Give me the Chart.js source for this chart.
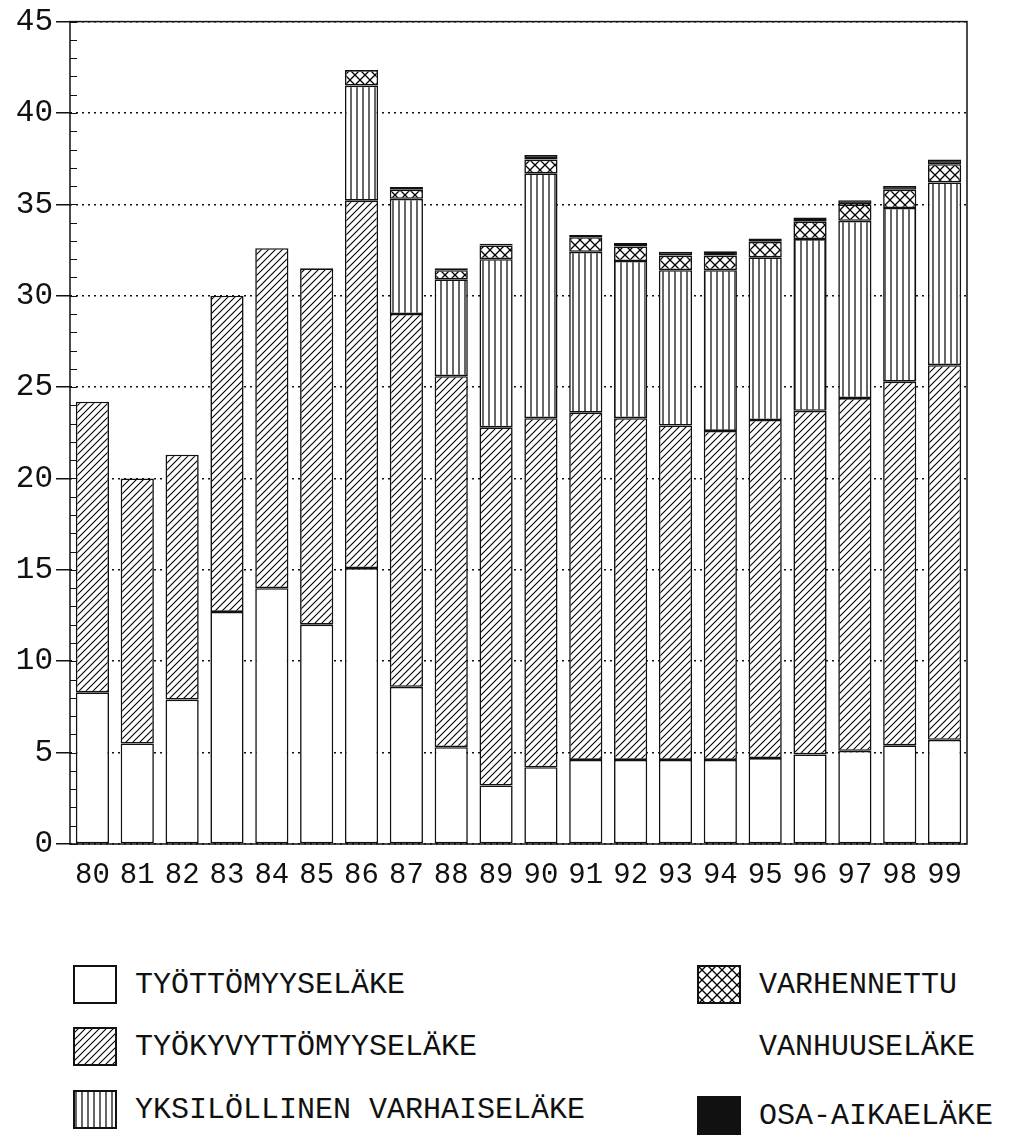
<!DOCTYPE html>
<html>
<head>
<meta charset="utf-8">
<script src="https://cdn.jsdelivr.net/npm/chart.js@4.4.0/dist/chart.umd.min.js"></script>
<style>
    body { margin: 0; background: #fff; }
    #wrap { position: relative; width: 1011px; height: 1139px; overflow: hidden; }
    #chart { position: absolute; left: 0; top: 0; }
    .item { position: absolute; display: flex; align-items: center; font-family: "Liberation Mono", "Courier New", monospace; font-size: 30px; color: #111; white-space: nowrap; }
    .item canvas { margin-right: 18px; }
    .label { position: absolute; font-family: "Liberation Mono", "Courier New", monospace; font-size: 30px; color: #111; white-space: nowrap; }
</style>
</head>
<body>
<div id="wrap">
    <canvas id="chart" width="1011" height="900"></canvas>
    <div class="item" style="left:73px; top:965px;"><canvas class="sw" data-k="white" width="44" height="39"></canvas>TYÖTTÖMYYSELÄKE</div>
    <div class="item" style="left:73px; top:1027px;"><canvas class="sw" data-k="diag" width="44" height="39"></canvas>TYÖKYVYTTÖMYYSELÄKE</div>
    <div class="item" style="left:73px; top:1090px;"><canvas class="sw" data-k="vert" width="44" height="39"></canvas>YKSILÖLLINEN VARHAISELÄKE</div>
    <div class="item" style="left:697px; top:965px;"><canvas class="sw" data-k="cross" width="44" height="39"></canvas>VARHENNETTU</div>
    <div class="label" style="left:759px; top:1030px;">VANHUUSELÄKE</div>
    <div class="item" style="left:697px; top:1096px;"><canvas class="sw" data-k="black" width="44" height="39"></canvas>OSA-AIKAELÄKE</div>
</div>
<script>
const years = ["80", "81", "82", "83", "84", "85", "86", "87", "88", "89",
               "90", "91", "92", "93", "94", "95", "96", "97", "98", "99"];

// työttömyyseläke
const unemployment = [8.3, 5.5, 7.9, 12.7, 14.0, 12.0, 15.1, 8.6, 5.3, 3.2,
                      4.2, 4.6, 4.6, 4.6, 4.6, 4.7, 4.9, 5.1, 5.4, 5.7];
// työkyvyttömyyseläke
const disability = [15.9, 14.5, 13.4, 17.3, 18.6, 19.5, 20.1, 20.4, 20.3, 19.6,
                    19.1, 19.0, 18.7, 18.3, 18.0, 18.5, 18.8, 19.3, 19.9, 20.5];
// yksilöllinen varhaiseläke
const individual = [null, null, null, null, null, null, 6.3, 6.3, 5.3, 9.2,
                    13.4, 8.8, 8.6, 8.5, 8.8, 8.9, 9.4, 9.7, 9.5, 10.0];
// varhennettu vanhuuseläke
const earlyOld = [null, null, null, null, null, null, 0.85, 0.5, 0.5, 0.75,
                  0.75, 0.8, 0.8, 0.8, 0.8, 0.85, 0.95, 0.9, 1.0, 1.0];
// osa-aikaeläke
const partTime = [null, null, null, null, null, null, null, 0.15, 0.1, 0.1,
                  0.25, 0.13, 0.18, 0.2, 0.23, 0.18, 0.23, 0.23, 0.2, 0.25];

const yTicks = [0, 5, 10, 15, 20, 25, 30, 35, 40, 45];

function makePattern(kind) {
    const c = document.createElement("canvas");
    const g = c.getContext("2d");
    g.strokeStyle = "#111";
    if (kind === "diag") {
        c.width = 7; c.height = 7;
        g.fillStyle = "#fff"; g.fillRect(0, 0, 7, 7);
        g.lineWidth = 1.1;
        g.beginPath();
        g.moveTo(-2, 9); g.lineTo(9, -2);
        g.moveTo(-9, 9); g.lineTo(2, -2);
        g.moveTo(5, 9); g.lineTo(16, -2);
        g.stroke();
    } else if (kind === "vert") {
        c.width = 6; c.height = 6;
        g.fillStyle = "#fff"; g.fillRect(0, 0, 6, 6);
        g.lineWidth = 1.2;
        g.beginPath(); g.moveTo(3, 0); g.lineTo(3, 6); g.stroke();
    } else if (kind === "cross") {
        c.width = 10; c.height = 10;
        g.fillStyle = "#fff"; g.fillRect(0, 0, 10, 10);
        g.lineWidth = 1.3;
        g.beginPath();
        g.moveTo(0, 0); g.lineTo(10, 10);
        g.moveTo(10, 0); g.lineTo(0, 10);
        g.stroke();
    }
    return g.createPattern(c, "repeat");
}

const ctxMain = document.getElementById("chart").getContext("2d");
const fills = {
    white: "#fff",
    diag: makePattern("diag"),
    vert: makePattern("vert"),
    cross: makePattern("cross"),
    black: "#111",
};

document.querySelectorAll(".sw").forEach(function (sw) {
    const g = sw.getContext("2d");
    g.fillStyle = fills[sw.dataset.k];
    g.fillRect(0, 0, sw.width, sw.height);
    g.strokeStyle = "#111";
    g.lineWidth = 2;
    g.strokeRect(1, 1, sw.width - 2, sw.height - 2);
});

const frame = {
    id: "frame",
    afterDraw(chart) {
        const a = chart.chartArea;
        const y = chart.scales.y;
        const g = chart.ctx;
        g.save();
        g.strokeStyle = "#111";
        g.lineWidth = 1.5;
        g.strokeRect(a.left, a.top, a.right - a.left, a.bottom - a.top);
        g.lineWidth = 1.2;
        g.beginPath();
        for (let v = 0; v <= 45; v++) {
            const py = Math.round(y.getPixelForValue(v)) + 0.5;
            g.moveTo(a.left, py);
            g.lineTo(a.left + 7, py);
        }
        g.stroke();
        g.restore();
    },
};

function seg(label, data, fill) {
    return {
        label: label,
        data: data,
        backgroundColor: fill,
        borderColor: "#111",
        borderWidth: 1.6,
        borderSkipped: false,
        barPercentage: 0.74,
        categoryPercentage: 1.0,
    };
}

new Chart(ctxMain, {
    type: "bar",
    data: {
        labels: years,
        datasets: [
            seg("TYÖTTÖMYYSELÄKE", unemployment, fills.white),
            seg("TYÖKYVYTTÖMYYSELÄKE", disability, fills.diag),
            seg("YKSILÖLLINEN VARHAISELÄKE", individual, fills.vert),
            seg("VARHENNETTU VANHUUSELÄKE", earlyOld, fills.cross),
            seg("OSA-AIKAELÄKE", partTime, fills.black),
        ],
    },
    options: {
        responsive: false,
        animation: false,
        layout: { padding: { top: 15, right: 44, left: 0, bottom: 0 } },
        plugins: {
            legend: { display: false },
            tooltip: { enabled: false },
        },
        scales: {
            x: {
                stacked: true,
                grid: { display: false, drawTicks: false },
                border: { display: false },
                ticks: {
                    color: "#111",
                    padding: 14,
                    maxRotation: 0,
                    autoSkip: false,
                    font: { family: "Liberation Mono", size: 29 },
                },
                afterFit(scale) { scale.height = 56; },
            },
            y: {
                stacked: true,
                min: 0,
                max: 45,
                afterBuildTicks(scale) {
                    scale.ticks = yTicks.map((v) => ({ value: v }));
                },
                grid: {
                    color: "#111",
                    lineWidth: 1.5,
                    tickLength: 14,
                    tickColor: "#111",
                },
                border: { display: false, dash: [2, 4] },
                ticks: {
                    color: "#111",
                    padding: 3,
                    font: { family: "Liberation Mono", size: 31 },
                },
                afterFit(scale) { scale.width = 70; },
            },
        },
    },
    plugins: [frame],
});
</script>
</body>
</html>
